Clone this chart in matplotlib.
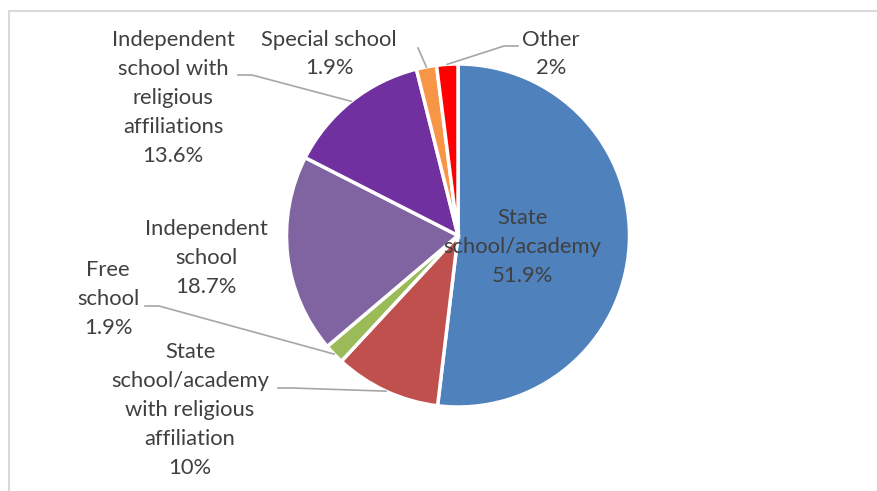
import numpy as np
import matplotlib.pyplot as plt
from matplotlib.patches import Rectangle

W, H = 877, 491

labels = ["State\nschool/academy", "State\nschool/academy\nwith religious\naffiliation",
          "Free\nschool", "Independent\nschool", "Independent\nschool with\nreligious\naffiliations",
          "Special school", "Other"]
values = [51.9, 10, 1.9, 18.7, 13.6, 1.9, 2]
pct_text = ["51.9%", "10%", "1.9%", "18.7%", "13.6%", "1.9%", "2%"]
colors = ["#4F81BD", "#C0504D", "#9BBB59", "#8064A2", "#7030A0", "#F79646", "#FF0000"]

# layout in pixels (y measured from top)
cx, cy, r = 458, 235.5, 171.5
label_pos = [(522, 247), (190, 410), (108, 299), (206, 258), (173, 98), (329, 54), (551, 54)]
# where each leader line leaves the label (None = label sits inside the slice)
line_start = [None, (278, 388), (145, 306), None, (238, 75), (418, 48), (518, 46)]

plt.rcParams['font.family'] = ['Lato', 'DejaVu Sans']

fig = plt.figure(figsize=(W / 100, H / 100), dpi=100)
ax = fig.add_axes([0, 0, 1, 1])
ax.set_xlim(0, W)
ax.set_ylim(0, H)
ax.axis('off')

ax.add_patch(Rectangle((9, -10), W + 20, H - 11 + 10, fill=False,
                       edgecolor="#D9D9D9", lw=1.5))

wedges, _ = ax.pie(values, colors=colors, startangle=90, counterclock=False,
                   center=(cx, H - cy), radius=r,
                   wedgeprops=dict(edgecolor="white", linewidth=2.5))
ax.set_xlim(0, W)
ax.set_ylim(0, H)

for i, w in enumerate(wedges):
    lx, ly = label_pos[i]
    ax.text(lx, H - ly, labels[i] + "\n" + pct_text[i], ha="center", va="center",
            fontsize=15.8, color="#404040", linespacing=1.55)
    if line_start[i] is None:
        continue
    ang = np.deg2rad((w.theta1 + w.theta2) / 2)
    ex = cx + r * np.cos(ang)
    ey = cy - r * np.sin(ang)
    sx, sy = line_start[i]
    step = 14 if ex > sx else -14
    if i == 5:
        xs, ys = [sx, ex], [sy, ey]
    else:
        xs = [sx, sx + step, ex]
        ys = [sy, sy, ey]
    ax.plot(xs, [H - y for y in ys], color="#A6A6A6", lw=1.2)

fig.savefig("out.png", dpi=100)
